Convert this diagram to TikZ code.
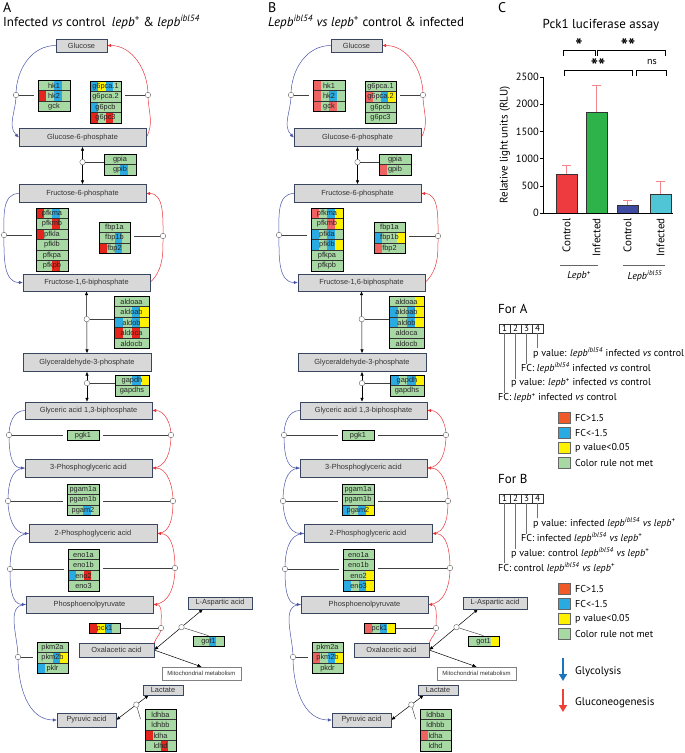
\documentclass[tikz,border=0pt]{standalone}
\usepackage{fontspec}
\setmainfont{Liberation Sans}
\newfontfamily\myriad{PT Sans}
\usetikzlibrary{arrows.meta,backgrounds}

\definecolor{gR}{HTML}{E4251B}
\definecolor{gP}{HTML}{EF6262}
\definecolor{gB}{HTML}{29ABE2}
\definecolor{gY}{HTML}{FFF200}
\definecolor{gG}{HTML}{A8D8A4}
\definecolor{metfill}{HTML}{D8D8D8}
\definecolor{metedge}{HTML}{3A4560}
\definecolor{glyblue}{HTML}{4A55A8}
\definecolor{neored}{HTML}{E8353A}
\definecolor{barred}{HTML}{EE3B3F}
\definecolor{bargreen}{HTML}{2DB34A}
\definecolor{barnavy}{HTML}{3E4DA3}
\definecolor{barcyan}{HTML}{4FC5D5}
\definecolor{errpink}{HTML}{F3868A}
\definecolor{legred}{HTML}{F05A28}
\definecolor{arrblue}{HTML}{1C75BC}
\definecolor{arrred}{HTML}{EF4136}

\tikzset{
  met/.style={draw=metedge, fill=metfill, inner sep=0pt, minimum height=18pt, text=black!80, font=\fontsize{7.4}{8}\selectfont},
  generow/.style={draw=black!80, line width=.4pt},
  geneframe/.style={draw=black, line width=.7pt, inner sep=0pt},
  genetxt/.style={inner sep=0pt, text=black!85, font=\fontsize{7.4}{8}\selectfont},
  hub/.style={circle, draw=black!60, fill=white, inner sep=0pt, minimum size=5.5pt, line width=.4pt},
  tie/.style={draw=black!75, line width=.45pt, shorten >=#1},
  tie/.default=4pt,
  glyco/.style={draw=glyblue, line width=.5pt, -{Latex[length=4pt,width=3.5pt]}},
  neo/.style={draw=neored, line width=.5pt, -{Latex[length=4pt,width=3.5pt]}},
  dbl/.style={draw=black, line width=.5pt, {Latex[length=4pt,width=3.5pt]}-{Latex[length=4pt,width=3.5pt]}},
  one/.style={draw=black, line width=.5pt, -{Latex[length=4pt,width=3.5pt]}},
  hd/.style={font=\myriad\fontsize{13}{15}\selectfont, inner sep=0pt},
  lg/.style={font=\myriad\fontsize{10}{12}\selectfont, inner sep=0pt, anchor=west},
  cell/.style={draw=black!80, minimum width=11pt, minimum height=9pt, inner sep=0pt, font=\myriad\fontsize{9}{10}\selectfont},
  sq/.style={draw=black!60, minimum width=12pt, minimum height=11pt, inner sep=0pt},
  star/.style={font=\myriad\bfseries\fontsize{19}{19}\selectfont, inner sep=0pt},
}

% gene box: name, x, y (top left), width, rows, data
\newcommand{\genes}[6]{%
  \foreach \g/\ca/\cb/\cc/\cd [count=\i from 0] in {#6} {
    \pgfmathsetmacro{\yy}{#3+\i*10.5}
    \fill[\ca] (#2,\yy) rectangle ++(#4/4,10.5);
    \fill[\cb] ({#2+#4/4},\yy) rectangle ++(#4/4,10.5);
    \fill[\cc] ({#2+#4/2},\yy) rectangle ++(#4/4,10.5);
    \fill[\cd] ({#2+3*#4/4},\yy) rectangle ++(#4/4,10.5);
    \draw[generow] (#2,\yy) rectangle ++(#4,10.5);
    \node[genetxt] (#1-\i) at ({#2+#4/2},\yy+5.5) {\g};
  }
  \node[geneframe, minimum width=#4, minimum height=#5*10.5] (#1) at ({#2+#4/2},{#3+#5*5.25}) {};
}

\begin{document}
\begin{tikzpicture}[x=1pt,y=-1pt]
\useasboundingbox (0,0) rectangle (685,753);

%headings
\node[hd, anchor=north west, font=\myriad\fontsize{14}{16}\selectfont] (lA) at (3,2) {A};
\node[hd, anchor=west] (tA) at (3,22) {Infected \textit{vs} control\enspace \textit{lepb}\textsuperscript{+} \& \textit{lepb}\textsuperscript{\textit{ibl54}}};
\node[hd, anchor=north west, font=\myriad\fontsize{14}{16}\selectfont] (lB) at (268,2) {B};
\node[hd, anchor=west] (tB) at (268,22) {\textit{Lepb}\textsuperscript{\textit{ibl54}} \textit{vs lepb}\textsuperscript{+} control \& infected};

%genes A
\genes{A-hk}{38}{80}{32}{3}{hk1/gG/gG/gB/gG, hk2/gR/gG/gB/gG, gck/gG/gG/gG/gG}
\genes{A-g6pc}{90}{81}{31}{4}{g6pca.1/gB/gY/gB/gG, g6pca.2/gG/gG/gG/gG, g6pcb/gB/gG/gG/gG, g6pc3/gR/gG/gR/gG}
\genes{A-gpi}{104}{154}{32}{2}{gpia/gG/gG/gG/gG, gpib/gG/gG/gB/gG}
\genes{A-pfk}{36}{208}{32}{6}{pfkma/gR/gG/gB/gG, pfkmb/gG/gG/gR/gG, pfkla/gR/gG/gG/gG, pfklb/gG/gG/gG/gG, pfkpa/gG/gG/gG/gG, pfkpb/gG/gG/gR/gG}
\genes{A-fbp}{99}{222}{31}{3}{fbp1a/gG/gG/gG/gG, fbp1b/gG/gG/gB/gG, fbp2/gR/gG/gB/gG}
\genes{A-aldo}{114}{296}{35}{5}{aldoaa/gG/gG/gG/gG, aldoab/gG/gG/gB/gY, aldob/gB/gG/gB/gY, aldoca/gR/gG/gR/gG, aldocb/gG/gG/gG/gG}
\genes{A-gapdh}{115}{375}{34}{2}{gapdh/gG/gG/gB/gY, gapdhs/gG/gG/gG/gG}
\genes{A-pgk}{67}{430}{32}{1}{pgk1/gG/gG/gG/gG}
\genes{A-pgam}{67}{484}{32}{3}{pgam1a/gG/gG/gG/gG, pgam1b/gG/gG/gG/gG, pgam2/gG/gG/gB/gG}
\genes{A-eno}{68}{549}{31}{4}{eno1a/gG/gG/gG/gG, eno1b/gG/gG/gG/gG, eno2/gB/gG/gR/gG, eno3/gG/gG/gG/gG}
\genes{A-pck}{89}{623}{31}{1}{pck1/gR/gY/gB/gG}
\genes{A-pkm}{37}{642}{31}{3}{pkm2a/gG/gG/gG/gG, pkm2b/gG/gG/gB/gY, pklr/gB/gG/gG/gG}
\genes{A-got}{193}{636}{31}{1}{got1/gG/gG/gB/gG}
\genes{A-ldh}{145}{709}{31}{4}{ldhba/gG/gG/gG/gG, ldhbb/gG/gG/gG/gG, ldha/gR/gG/gG/gG, ldhd/gG/gG/gR/gG}

%genes B
\begin{scope}[xshift=275]
\genes{B-hk}{38}{80}{32}{3}{hk1/gP/gG/gG/gG, hk2/gP/gG/gB/gG, gck/gP/gG/gP/gG}
\genes{B-g6pc}{90}{81}{31}{4}{g6pca.1/gG/gG/gG/gG, g6pca.2/gP/gG/gB/gY, g6pcb/gG/gG/gG/gG, g6pc3/gG/gG/gG/gG}
\genes{B-gpi}{104}{154}{32}{2}{gpia/gG/gG/gG/gG, gpib/gP/gG/gG/gG}
\genes{B-pfk}{36}{208}{32}{6}{pfkma/gP/gG/gB/gY, pfkmb/gG/gG/gP/gY, pfkla/gB/gG/gB/gG, pfklb/gB/gG/gB/gY, pfkpa/gG/gG/gG/gG, pfkpb/gG/gG/gG/gG}
\genes{B-fbp}{99}{222}{31}{3}{fbp1a/gG/gG/gG/gG, fbp1b/gB/gG/gG/gY, fbp2/gP/gG/gG/gG}
\genes{B-aldo}{114}{296}{35}{5}{aldoaa/gG/gG/gG/gY, aldoab/gB/gG/gB/gY, aldob/gB/gG/gB/gY, aldoca/gG/gG/gG/gG, aldocb/gG/gG/gG/gG}
\genes{B-gapdh}{115}{375}{34}{2}{gapdh/gB/gG/gB/gY, gapdhs/gG/gG/gG/gG}
\genes{B-pgk}{67}{430}{32}{1}{pgk1/gG/gG/gG/gG}
\genes{B-pgam}{67}{484}{32}{3}{pgam1a/gG/gG/gG/gG, pgam1b/gG/gG/gG/gG, pgam2/gB/gG/gB/gY}
\genes{B-eno}{68}{549}{31}{4}{eno1a/gG/gG/gG/gG, eno1b/gG/gG/gG/gG, eno2/gG/gG/gG/gY, eno3/gB/gG/gB/gY}
\genes{B-pck}{89}{623}{31}{1}{pck1/gP/gG/gB/gY}
\genes{B-pkm}{37}{642}{31}{3}{pkm2a/gG/gG/gG/gG, pkm2b/gP/gG/gB/gY, pkdr/gG/gG/gG/gG}
\genes{B-got}{193}{636}{31}{1}{got1/gG/gG/gG/gY}
\genes{B-ldh}{145}{709}{31}{4}{ldhba/gG/gG/gG/gG, ldhbb/gG/gG/gG/gG, ldha/gP/gG/gG/gG, ldhd/gG/gG/gG/gG}
\end{scope}

%pathway, same for both panels
\foreach \P/\dx in {A/0,B/275}{
\begin{scope}[xshift=\dx]
  \node[met, minimum width=51, minimum height=13] (\P-glc) at (81.5,45.5) {Glucose};
  \node[met, minimum width=127] (\P-g6p) at (82.5,137.5) {Glucose-6-phosphate};
  \node[met, minimum width=127] (\P-f6p) at (82.5,193.5) {Fructose-6-phosphate};
  \node[met, minimum width=127, minimum height=17] (\P-f16) at (86.5,282.5) {Fructose-1,6-biphosphate};
  \node[met, minimum width=128] (\P-g3p) at (87,362.5) {Glyceraldehyde-3-phosphate};
  \node[met, minimum width=127, minimum height=17] (\P-bpg) at (88.5,410.5) {Glyceric acid 1,3-biphosphate};
  \node[met, minimum width=127] (\P-pg3) at (88.5,468) {3-Phosphoglyceric acid};
  \node[met, minimum width=128] (\P-pg2) at (93,533.5) {2-Phosphoglyceric acid};
  \node[met, minimum width=127, minimum height=17] (\P-pep) at (89.5,604.5) {Phosphoenolpyruvate};
  \node[met, minimum width=75, minimum height=14] (\P-oaa) at (116.5,650) {Oxalacetic acid};
  \node[met, minimum width=64, minimum height=12] (\P-asp) at (220,603) {L-Aspartic acid};
  \node[met, fill=white, draw=black!50, minimum width=79, minimum height=13, font=\fontsize{6}{7}\selectfont] (\P-mito) at (201.5,673.5) {Mitochondrial metabolism};
  \node[met, minimum width=40, minimum height=10] (\P-lac) at (163,690) {Lactate};
  \node[met, minimum width=59, minimum height=14] (\P-pyr) at (86.5,720) {Pyruvic acid};
  %hubs
  \node[hub] (\P-c1) at (16,95) {};
  \node[hub] (\P-c2) at (148,95) {};
  \node[hub] (\P-c4) at (4,235) {};
  \node[hub] (\P-c5) at (163,236) {};
  \node[hub] (\P-c8) at (9,435) {};
  \node[hub] (\P-c9) at (171,435) {};
  \node[hub] (\P-c10) at (8,501) {};
  \node[hub] (\P-c11) at (173,501) {};
  \node[hub] (\P-c12) at (10,569) {};
  \node[hub] (\P-c13) at (175,568) {};
  \node[hub] (\P-c14) at (18,657) {};
  \node[hub] (\P-c15) at (161,628) {};
  \begin{pgfonlayer}{background}
    %glycolysis
    \draw[glyco] (\P-glc.west) to[out=180,in=90] (\P-c1.center) to[out=-90,in=135] (\P-g6p.west);
    \draw[glyco] (\P-f6p.west) to[out=180,in=90] (\P-c4.center) to[out=-90,in=180] (\P-f16.west);
    \draw[glyco] (\P-bpg.west) to[out=180,in=90] (\P-c8.center) to[out=-90,in=180] (\P-pg3.west);
    \draw[glyco] (\P-pg3.west) to[out=180,in=90] (\P-c10.center) to[out=-90,in=180] (\P-pg2.west);
    \draw[glyco] (\P-pg2.west) to[out=180,in=90] (\P-c12.center) to[out=-90,in=180] (\P-pep.west);
    \draw[glyco] (\P-pep.west) to[out=180,in=90] (\P-c14.center) to[out=-90,in=180] (\P-pyr.west);
    %gluconeogenesis
    \draw[neo] (\P-g6p.east) to[out=60,in=-90] (\P-c2.center) to[out=90,in=0] (\P-glc.east);
    \draw[neo] (\P-f16.east) to[out=45,in=-90] (\P-c5.center) to[out=90,in=0] (\P-f6p.east);
    \draw[neo] (\P-pg3.east) to[out=0,in=-90] (\P-c9.center) to[out=90,in=0] (\P-bpg.east);
    \draw[neo] (\P-pg2.east) to[out=0,in=-90] (\P-c11.center) to[out=90,in=0] (\P-pg3.east);
    \draw[neo] (\P-pep.east) to[out=0,in=-90] (\P-c13.center) to[out=90,in=0] (\P-pg2.east);
    \draw[neo] (\P-oaa.north east) to[out=70,in=-90] (\P-c15.center) to[out=90,in=0] (\P-pep.east);
    %reversible steps
    \draw[dbl] (\P-g6p.south) -- node[hub, pos=.41] (\P-c3) {} (\P-f6p.north);
    \draw[dbl] (\P-f16.south) -- node[hub, pos=.45] (\P-c6) {} (\P-g3p.north);
    \draw[dbl] (\P-g3p.south) -- node[hub, pos=.38] (\P-c7) {} (\P-g3p.south |- \P-bpg.north);
    \draw[dbl] (\P-oaa.east) -- node[hub, pos=.56] (\P-c16) {} (\P-asp.200);
    \draw[dbl] (\P-pyr.east) -- node[hub, pos=.62] (\P-c17) {} (\P-lac.200);
    \draw[one] (\P-oaa.east) -- (\P-mito.north);
    %enzymes
    \draw[tie] (\P-c1) -- (\P-hk.west |- \P-c1);
    \draw[tie] (\P-c2) -- (\P-g6pc.east |- \P-c2);
    \draw[tie=0pt] (\P-c3) -- (\P-gpi.west |- \P-c3);
    \draw[tie] (\P-c4) -- (\P-pfk.west |- \P-c4);
    \draw[tie] (\P-c5) -- (\P-fbp.east |- \P-c5);
    \draw[tie=0pt] (\P-c6) -- (\P-aldo.west |- \P-c6);
    \draw[tie=0pt] (\P-c7) -- (\P-gapdh.west |- \P-c7);
    \draw[tie] (\P-c8) -- (\P-pgk.west |- \P-c8);
    \draw[tie] (\P-c9) -- (\P-pgk.east |- \P-c9);
    \draw[tie] (\P-c10) -- (\P-pgam.west |- \P-c10);
    \draw[tie] (\P-c11) -- (\P-pgam.east |- \P-c11);
    \draw[tie] (\P-c12) -- (\P-eno.west |- \P-c12);
    \draw[tie] (\P-c13) -- (\P-eno.east |- \P-c13);
    \draw[tie] (\P-c14) -- (\P-pkm.west |- \P-c14);
    \draw[tie=0pt] (\P-c15) -- (\P-pck.east |- \P-c15);
    \draw[tie=0pt] (\P-c16) -- (\P-got.north);
    \draw[tie] (\P-c17) -- ([shift={(-3,-7)}]\P-ldh.west);
  \end{pgfonlayer}
\end{scope}
}

%panel C
\node[hd, anchor=north west, font=\myriad\fontsize{14}{16}\selectfont] (lC) at (498,2) {C};
\node[hd] (tC) at (601,25) {Pck1 luciferase assay};
\begin{scope}[shift={(543,213)}, y=0.0544pt]
  \foreach \xa/\v/\e/\c in {13/720/880/barred, 43/1850/2350/bargreen, 74/150/240/barnavy, 107/340/590/barcyan} {
    \draw[errpink, line width=.8pt] (\xa+10.5,\v) -- (\xa+10.5,\e) (\xa+6,\e) -- (\xa+15,\e);
    \draw[fill=\c, draw=black!80, line width=.5pt] (\xa,0) rectangle (\xa+21,\v);
  }
  \draw[line width=.6pt] (0,2500) -- (0,0) -- (130,0);
  \foreach \t in {0,500,...,2500} {
    \draw[line width=.6pt] (-3,\t) -- (0,\t);
    \node[anchor=east, inner sep=0pt, font=\myriad\fontsize{10.5}{12}\selectfont] (yt\t) at (-4,\t) {\t};
  }
  \foreach \xa/\lab [count=\k] in {13/Control, 43/Infected, 74/Control, 107/Infected}
    \node[rotate=90, anchor=east, inner sep=0pt, font=\myriad\fontsize{11}{12}\selectfont] (xl\k) at (\xa+10.5,-92) {\lab};
\end{scope}
\node[rotate=90, font=\myriad\fontsize{11}{12}\selectfont] (yl) at (505,145) {Relative light units (RLU)};
\draw[line width=.6pt] (563,56) -- (563,50) -- (595,50) -- (595,56);
\draw[line width=.6pt] (597,56) -- (597,50) -- (665,50) -- (665,56);
\draw[line width=.6pt] (564,76) -- (564,70) -- (632,70) -- (632,76);
\draw[line width=.6pt] (636,76) -- (636,70) -- (666,70) -- (666,76);
\node[star] (s1) at (579,46) {*};
\node[star] (s2) at (628,46) {**};
\node[star] (s3) at (598,66) {**};
\node[font=\myriad\fontsize{10}{10}\selectfont] (s4) at (652,62) {ns};
\draw[black!60] (560,265) -- (598,265);
\draw[black!60] (623,265) -- (665,265);
\node[font=\myriad\fontsize{10}{12}\selectfont\itshape] (gw) at (579,276) {Lepb\textsuperscript{+}};
\node[font=\myriad\fontsize{10}{12}\selectfont\itshape] (gm) at (645,276) {Lepb\textsuperscript{ibl55}};

%legend A
\node[hd, anchor=west] (forA) at (498,309) {For A};
\foreach \k in {1,...,4} \node[cell] (a\k) at (493.5+11*\k,328.5) {\k};
\foreach \k/\l in {1/60,2/46,3/31,4/15} \draw[black!55, line width=.6pt] (a\k.south) -- ++(0,\l) coordinate (ae\k);
\node[lg] (ta4) at (533,353) {p value: \textit{lepb}\textsuperscript{\textit{ibl54}} infected \textit{vs} control};
\node[lg] (ta3) at (521,368) {FC: \textit{lepb}\textsuperscript{\textit{ibl54}} infected \textit{vs} control};
\node[lg] (ta2) at (511,383) {p value: \textit{lepb}\textsuperscript{+} infected \textit{vs} control};
\node[lg] (ta1) at (498,398) {FC: \textit{lepb}\textsuperscript{+} infected \textit{vs} control};
\foreach \c/\t [count=\k] in {legred/FC>1.5, gB/FC<-1.5, gY/p value<0.05, gG/Color rule not met} {
  \node[sq, fill=\c] (qa\k) at (564,403+15*\k) {};
  \node[lg] (qta\k) at (575,403+15*\k) {\t};
}

%legend B
\node[hd, anchor=west] (forB) at (498,479) {For B};
\foreach \k in {1,...,4} \node[cell] (b\k) at (493.5+11*\k,498.5) {\k};
\foreach \k/\l in {1/60,2/46,3/31,4/15} \draw[black!55, line width=.6pt] (b\k.south) -- ++(0,\l) coordinate (be\k);
\node[lg] (tb4) at (533,523) {p value: infected \textit{lepb}\textsuperscript{\textit{ibl54}} \textit{vs lepb}\textsuperscript{+}};
\node[lg] (tb3) at (521,538) {FC: infected \textit{lepb}\textsuperscript{\textit{ibl54}} \textit{vs lepb}\textsuperscript{+}};
\node[lg] (tb2) at (511,553) {p value: control \textit{lepb}\textsuperscript{\textit{ibl54}} \textit{vs lepb}\textsuperscript{+}};
\node[lg] (tb1) at (498,568) {FC: control \textit{lepb}\textsuperscript{\textit{ibl54}} \textit{vs lepb}\textsuperscript{+}};
\foreach \c/\t [count=\k] in {legred/FC>1.5, gB/FC<-1.5, gY/p value<0.05, gG/Color rule not met} {
  \node[sq, fill=\c] (qb\k) at (564,574+15*\k) {};
  \node[lg] (qtb\k) at (575,574+15*\k) {\t};
}

%pathway arrows
\draw[arrblue, line width=1.5pt, -{Triangle[length=7pt,width=8pt]}] (563,658) coordinate (gy0) -- (563,681) coordinate (gy1);
\node[lg, font=\myriad\fontsize{11}{12}\selectfont] (gyt) at (575,672) {Glycolysis};
\draw[arrred, line width=1.5pt, -{Triangle[length=7pt,width=8pt]}] (563,689) coordinate (gn0) -- (563,712) coordinate (gn1);
\node[lg, font=\myriad\fontsize{11}{12}\selectfont] (gnt) at (575,703) {Gluconeogenesis};
\end{tikzpicture}
\end{document}
